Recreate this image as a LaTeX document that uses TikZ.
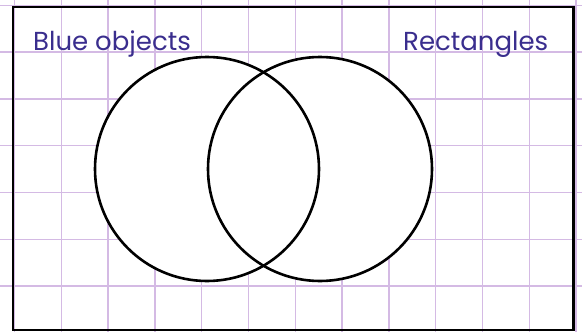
\documentclass[tikz,border=0pt]{standalone}
\usepackage{fontspec}
\setmainfont{Poppins}
\definecolor{gridc}{RGB}{212,186,228}
\definecolor{labc}{RGB}{58,46,142}
\begin{document}
\begin{tikzpicture}[x=1pt,y=-1pt,
  gridline/.style={draw=gridc,line width=1.4pt},
  frame/.style={draw=black,line width=2.8pt},
  disc/.style={circle,fill=white,draw=none,minimum size=224pt,inner sep=0pt},
  ring/.style={draw=black,line width=2.6pt},
  lab/.style={text=labc,font=\fontsize{26}{30}\selectfont,anchor=base west,inner sep=0pt}]
\useasboundingbox (0,0) rectangle (582,332);
\fill[white] (0,0) rectangle (582,332);
\foreach \k in {0,...,12} {\draw[gridline] ({14.4+46.8*\k},0) -- ({14.4+46.8*\k},332);}
\foreach \k in {0,...,7} {\draw[gridline] (0,{5.2+46.8*\k}) -- (582,{5.2+46.8*\k});}
\draw[frame] (13,7) rectangle (573.5,330);
\node[disc] (L) at (207,169) {};
\node[disc] (R) at (320,169) {};
\draw[ring] (L.center) circle[radius=112];
\draw[ring] (R.center) circle[radius=112];
\node[lab] (blue) at (33,50) {Blue objects};
\node[lab] (rect) at (403,50) {Rectangles};
\end{tikzpicture}
\end{document}
